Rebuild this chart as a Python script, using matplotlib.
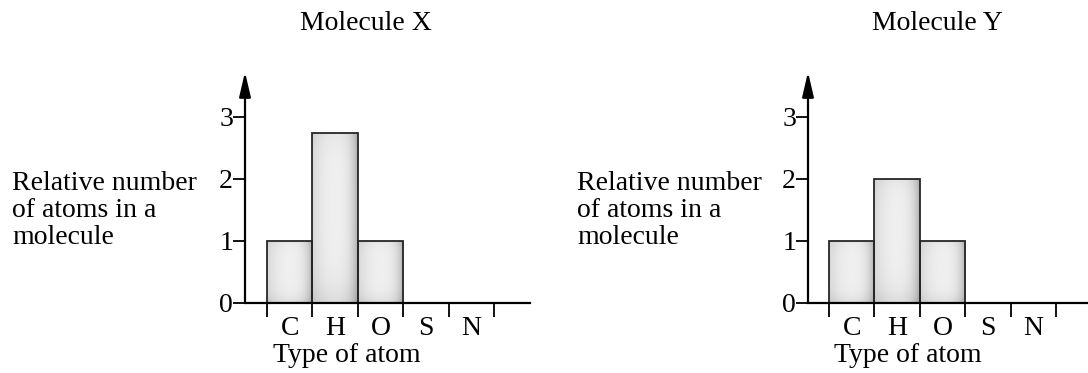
import numpy as np
import matplotlib
matplotlib.use("Agg")
import matplotlib.pyplot as plt
from matplotlib.ticker import FixedLocator, NullFormatter, FixedFormatter

# ---- data ----
atoms = ["C", "H", "O", "S", "N"]
molecule_x = [1, 2.75, 1, 0, 0]
molecule_y = [1, 2, 1, 0, 0]
y_ticks = [0, 1, 2, 3]
titles = ["Molecule X", "Molecule Y"]
ylabel_lines = ["Relative number", "of atoms in a", "molecule"]
xlabel = "Type of atom"

plt.rcParams["font.family"] = ["Liberation Serif", "DejaVu Serif"]

W, H = 1088, 373
fig = plt.figure(figsize=(W / 100, H / 100), dpi=100)


def px(x, y):
    return x / W, 1 - y / H


panels = [
    dict(ax0=245, ax1=530, bin0=267, tcx=366, xlcx=347, ylx=12, vals=molecule_x, title=titles[0]),
    dict(ax0=808, ax1=1088, bin0=829, tcx=937, xlcx=908, ylx=577, vals=molecule_y, title=titles[1]),
]

y0_px, ytop_px, unit_px, bin_px = 303, 72, 62.0, 45.4
lw_axis = 1.6
fs = 20

for p in panels:
    left, bottom = px(p["ax0"], y0_px)
    width = (p["ax1"] - p["ax0"]) / W
    height = (y0_px - ytop_px) / H
    ax = fig.add_axes([left, bottom, width, height])
    ax.set_facecolor("none")

    xmin = -(p["bin0"] - p["ax0"]) / bin_px
    xmax = (p["ax1"] - p["bin0"]) / bin_px
    ymax = (y0_px - ytop_px) / unit_px

    centers = np.arange(len(atoms)) + 0.5
    bars = ax.bar(centers, p["vals"], width=1.0, color="#e0e0e0",
                  edgecolor="#262626", linewidth=1.3, zorder=2)

    # airbrush-like shading inside each bar
    for b in bars:
        if b.get_height() <= 0:
            continue
        nx, ny = 60, 120
        u = np.linspace(-1, 1, nx)[None, :]
        v = np.linspace(0, 1, ny)[:, None]
        shade = (0.94 - 0.09 * u ** 2 - 0.16 * np.clip(u, 0, 1) ** 4
                 - 0.08 * (1 - v) ** 8 - 0.04 * v ** 12)
        shade = np.clip(shade, 0, 1)
        im = ax.imshow(np.repeat(shade[:, :, None], 3, axis=2), origin="lower",
                       extent=(b.get_x(), b.get_x() + b.get_width(), 0, b.get_height()),
                       aspect="auto", zorder=1.5, interpolation="bilinear")
        im.set_clip_path(b)
        b.set_facecolor("none")
    ax.set_xlim(xmin, xmax)
    ax.set_ylim(0, ymax)

    for s in ["top", "right", "left"]:
        ax.spines[s].set_visible(False)
    ax.spines["bottom"].set_linewidth(lw_axis)
    ax.spines["bottom"].set_zorder(3)

    # y axis with arrow head
    ax.annotate("", xy=(0, 1), xytext=(0, 0), xycoords="axes fraction",
                textcoords="axes fraction",
                arrowprops=dict(arrowstyle="-|>,head_length=1.5,head_width=0.35",
                                mutation_scale=10, lw=lw_axis, color="black",
                                shrinkA=0, shrinkB=0),
                annotation_clip=False, zorder=4)

    # y ticks
    ax.yaxis.set_major_locator(FixedLocator(y_ticks))
    ax.set_yticklabels([str(t) for t in y_ticks])
    ax.tick_params(axis="y", direction="out", length=8.6, width=1.3, pad=0,
                   labelsize=fs, colors="black")

    # x ticks at bin edges, labels at bin centres
    ax.xaxis.set_major_locator(FixedLocator(np.arange(len(atoms) + 1)))
    ax.xaxis.set_major_formatter(NullFormatter())
    ax.xaxis.set_minor_locator(FixedLocator(centers))
    ax.xaxis.set_minor_formatter(FixedFormatter(atoms))
    ax.tick_params(axis="x", which="major", direction="out", length=10, width=1.3)
    ax.tick_params(axis="x", which="minor", length=0, pad=9.5, labelsize=fs)

    ax.set_xlabel(xlabel, fontsize=fs, va="baseline")
    ax.xaxis.set_label_coords((p["xlcx"] - p["ax0"]) / (p["ax1"] - p["ax0"]),
                              -(362 - y0_px) / (y0_px - ytop_px))

    ax.text((p["tcx"] - p["ax0"]) / (p["ax1"] - p["ax0"]),
            (y0_px - 30) / (y0_px - ytop_px), p["title"],
            transform=ax.transAxes, ha="center", va="baseline", fontsize=fs)

    for line, base in zip(ylabel_lines, [190, 217, 244]):
        fig.text(*px(p["ylx"], base), line, ha="left", va="baseline", fontsize=fs)

fig.savefig("out.png", dpi=100)
